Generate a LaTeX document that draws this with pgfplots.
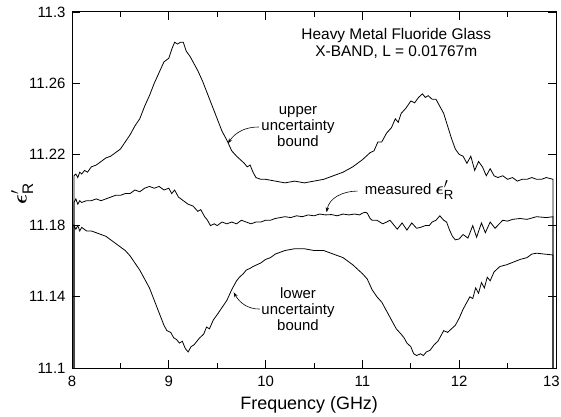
\documentclass[border=0pt]{standalone}
\usepackage{amsmath}
\usepackage{fontspec}
\setmainfont{Liberation Sans}
\usepackage{pgfplots}
\pgfplotsset{compat=1.18}
\usetikzlibrary{arrows.meta}

\begin{document}
\begin{tikzpicture}
% page = 561 x 417 px, axis box 484 x 356 starting at (72,12) from top-left
\path[use as bounding box] (-72bp,-49bp) rectangle (489bp,368bp);
\begin{axis}[
    scale only axis,
    width=484bp, height=356bp,
    xmin=8, xmax=13,
    ymin=11.1, ymax=11.3,
    xtick={8,9,10,11,12,13},
    minor xtick={8.5,9.5,10.5,11.5,12.5},
    ytick={11.1,11.14,11.18,11.22,11.26,11.3},
    yticklabels={11.1,11.14,11.18,11.22,11.26,11.3},
    xticklabels={8,9,10,11,12,\makebox[0pt]{\kern-9bp 13}},
    tick align=inside,
    major tick length=8bp,
    minor tick length=5bp,
    tick style={black, line width=0.7pt},
    axis line style={line width=1pt},
    ticklabel style={font=\fontsize{15}{17}\selectfont},
    xticklabel style={yshift=-5bp},
    yticklabel style={xshift=-3bp},
    /pgf/number format/assume math mode=true,
    xlabel={Frequency (GHz)},
    xlabel style={font=\fontsize{18}{20}\selectfont, at={(axis description cs:0.49,-0.103)}, anchor=center},
    ylabel={$\boldsymbol{\epsilon}'_{\text{R}}$},
    ylabel style={font=\fontsize{22}{24}\selectfont, at={(axis description cs:-0.103,0.49)}, anchor=center},
    clip=false,
]

% upper uncertainty bound
\addplot[black, line width=0.8pt] coordinates {
(8.02,11.100) (8.02,11.208) (8.04,11.209) (8.06,11.207) (8.08,11.210) (8.10,11.209)
(8.13,11.211) (8.16,11.210) (8.20,11.213) (8.25,11.214) (8.30,11.216) (8.35,11.218)
(8.40,11.219) (8.45,11.221) (8.50,11.223) (8.55,11.227) (8.60,11.231) (8.65,11.236)
(8.70,11.240) (8.75,11.247) (8.80,11.253) (8.85,11.260) (8.90,11.266) (8.95,11.272)
(9.00,11.274) (9.03,11.279) (9.06,11.283) (9.09,11.282) (9.12,11.283) (9.15,11.283)
(9.18,11.278) (9.22,11.275) (9.26,11.271) (9.30,11.267) (9.35,11.261) (9.40,11.254)
(9.45,11.247) (9.50,11.240) (9.55,11.233) (9.60,11.228) (9.65,11.222) (9.70,11.219)
(9.74,11.217) (9.78,11.215) (9.81,11.213) (9.84,11.214) (9.87,11.210) (9.90,11.207)
(9.95,11.206) (10.00,11.206) (10.10,11.205) (10.20,11.204) (10.30,11.205) (10.40,11.204)
(10.50,11.205) (10.60,11.206) (10.70,11.208) (10.80,11.210) (10.90,11.213) (11.00,11.217)
(11.08,11.221) (11.12,11.222) (11.16,11.227) (11.20,11.227) (11.25,11.232) (11.30,11.235)
(11.34,11.240) (11.37,11.238) (11.40,11.243) (11.45,11.246) (11.50,11.250) (11.54,11.249)
(11.58,11.252) (11.62,11.254) (11.65,11.252) (11.68,11.253) (11.72,11.251) (11.76,11.251)
(11.80,11.247) (11.84,11.243) (11.88,11.236) (11.92,11.229) (11.96,11.223) (12.00,11.220)
(12.04,11.219) (12.08,11.215) (12.12,11.219) (12.16,11.211) (12.20,11.216) (12.24,11.213)
(12.28,11.208) (12.32,11.212) (12.36,11.208) (12.40,11.207) (12.45,11.208) (12.50,11.206)
(12.55,11.207) (12.60,11.205) (12.65,11.206) (12.70,11.206) (12.75,11.207) (12.80,11.206)
(12.85,11.206) (12.90,11.207) (12.97,11.206) (12.97,11.100)
};

% measured
\addplot[black, line width=0.8pt] coordinates {
(8.02,11.100) (8.02,11.193) (8.04,11.195) (8.06,11.192) (8.08,11.194) (8.10,11.193)
(8.15,11.194) (8.20,11.194) (8.25,11.195) (8.30,11.194) (8.35,11.195) (8.40,11.196)
(8.45,11.197) (8.50,11.197) (8.55,11.198) (8.60,11.198) (8.65,11.200) (8.70,11.199)
(8.75,11.201) (8.80,11.202) (8.85,11.201) (8.90,11.202) (8.95,11.200) (9.00,11.201)
(9.03,11.198) (9.06,11.200) (9.10,11.196) (9.15,11.194) (9.20,11.192) (9.25,11.191)
(9.30,11.188) (9.33,11.189) (9.37,11.185) (9.40,11.183) (9.43,11.180) (9.47,11.181)
(9.50,11.180) (9.55,11.182) (9.60,11.181) (9.65,11.182) (9.70,11.181) (9.75,11.183)
(9.80,11.182) (9.85,11.181) (9.90,11.182) (9.95,11.182) (10.00,11.183) (10.05,11.183)
(10.10,11.184) (10.15,11.1845) (10.20,11.185) (10.26,11.1845) (10.32,11.1855) (10.38,11.185)
(10.44,11.186) (10.50,11.1855) (10.56,11.1865) (10.62,11.186) (10.68,11.1862) (10.74,11.1855)
(10.80,11.1865) (10.86,11.186) (10.92,11.1865) (10.97,11.186) (11.00,11.187) (11.03,11.1875)
(11.05,11.187) (11.08,11.184) (11.10,11.183) (11.15,11.183)
(11.21,11.181) (11.25,11.182) (11.285,11.183) (11.33,11.180) (11.36,11.178) (11.41,11.1815)
(11.46,11.1775) (11.51,11.1815) (11.56,11.1785) (11.60,11.179) (11.65,11.180) (11.69,11.180)
(11.72,11.182) (11.76,11.183) (11.80,11.1855) (11.84,11.183) (11.87,11.182) (11.90,11.1775)
(11.93,11.174) (11.96,11.172) (12.00,11.1725) (12.04,11.175) (12.09,11.173) (12.14,11.180)
(12.18,11.1735) (12.23,11.1815) (12.27,11.176) (12.32,11.182) (12.37,11.1785) (12.45,11.183)
(12.50,11.1825) (12.55,11.1835) (12.63,11.184) (12.70,11.1835) (12.80,11.185) (12.90,11.1845) (12.97,11.185)
(12.97,11.100)
};

% lower uncertainty bound
\addplot[black, line width=0.8pt] coordinates {
(8.02,11.100) (8.02,11.180) (8.04,11.178) (8.06,11.180) (8.08,11.177) (8.10,11.179)
(8.15,11.177) (8.20,11.177) (8.25,11.176) (8.30,11.175) (8.35,11.174) (8.40,11.172)
(8.45,11.170) (8.50,11.168) (8.55,11.166) (8.60,11.163) (8.65,11.159) (8.70,11.155)
(8.75,11.150) (8.80,11.145) (8.85,11.138) (8.90,11.131) (8.95,11.124) (8.98,11.121)
(9.02,11.120) (9.05,11.117) (9.08,11.116) (9.11,11.114) (9.14,11.115) (9.17,11.111)
(9.20,11.109) (9.23,11.112) (9.26,11.113) (9.29,11.115) (9.32,11.117) (9.36,11.119)
(9.39,11.123) (9.42,11.122) (9.46,11.127) (9.50,11.130) (9.55,11.134) (9.60,11.138)
(9.65,11.144) (9.70,11.149) (9.73,11.151) (9.77,11.153) (9.80,11.155) (9.84,11.156)
(9.87,11.157) (9.91,11.158) (9.95,11.159) (10.00,11.161) (10.05,11.162) (10.10,11.164)
(10.15,11.165) (10.20,11.166) (10.30,11.167) (10.40,11.167) (10.50,11.166) (10.60,11.166)
(10.70,11.164) (10.80,11.162) (10.90,11.158) (11.00,11.153) (11.05,11.150) (11.10,11.144)
(11.15,11.140) (11.20,11.137) (11.25,11.132) (11.30,11.127) (11.35,11.122) (11.40,11.119)
(11.43,11.117) (11.46,11.114) (11.50,11.112) (11.53,11.108) (11.56,11.107) (11.60,11.108)
(11.63,11.107) (11.66,11.109) (11.70,11.110) (11.74,11.113) (11.78,11.115) (11.81,11.118)
(11.84,11.121) (11.88,11.120) (11.92,11.122) (11.96,11.124) (12.00,11.128) (12.04,11.133)
(12.08,11.137) (12.11,11.140) (12.14,11.139) (12.17,11.145) (12.20,11.142) (12.23,11.148)
(12.26,11.145) (12.29,11.151) (12.32,11.149) (12.36,11.154) (12.42,11.157) (12.49,11.158)
(12.56,11.1595) (12.63,11.161) (12.70,11.162) (12.75,11.164) (12.80,11.1645) (12.88,11.164)
(12.97,11.1635) (12.97,11.100)
};

% title text
\node[font=\fontsize{15.5}{17}\selectfont, align=center, anchor=center]
  at (axis cs:11.35,11.2823) {Heavy Metal Fluoride Glass\\X-BAND, L = 0.01767m};

% annotations
\node[font=\fontsize{15}{16}\selectfont, align=center, anchor=center]
  at (axis cs:10.335,11.2354) {upper\\uncertainty\\bound};
\draw[-{Stealth[length=5pt,width=3.5pt]}, line width=0.6pt]
  (axis cs:9.93,11.2354) to[out=180,in=55] (axis cs:9.61,11.2262);

\node[font=\fontsize{15}{16}\selectfont, anchor=west]
  at (axis cs:10.99,11.2) {measured {\fontsize{19}{19}\selectfont$\boldsymbol{\epsilon}'_{\text{R}}$}};
\draw[-{Stealth[length=5pt,width=3.5pt]}, line width=0.6pt]
  (axis cs:10.95,11.1994) to[out=180,in=80] (axis cs:10.63,11.1875);

\node[font=\fontsize{15}{16}\selectfont, align=center, anchor=center]
  at (axis cs:10.335,11.1331) {lower\\uncertainty\\bound};
\draw[-{Stealth[length=5pt,width=3.5pt]}, line width=0.6pt]
  (axis cs:9.94,11.1331) to[out=180,in=-60] (axis cs:9.67,11.1425);
\end{axis}
\end{tikzpicture}
\end{document}
